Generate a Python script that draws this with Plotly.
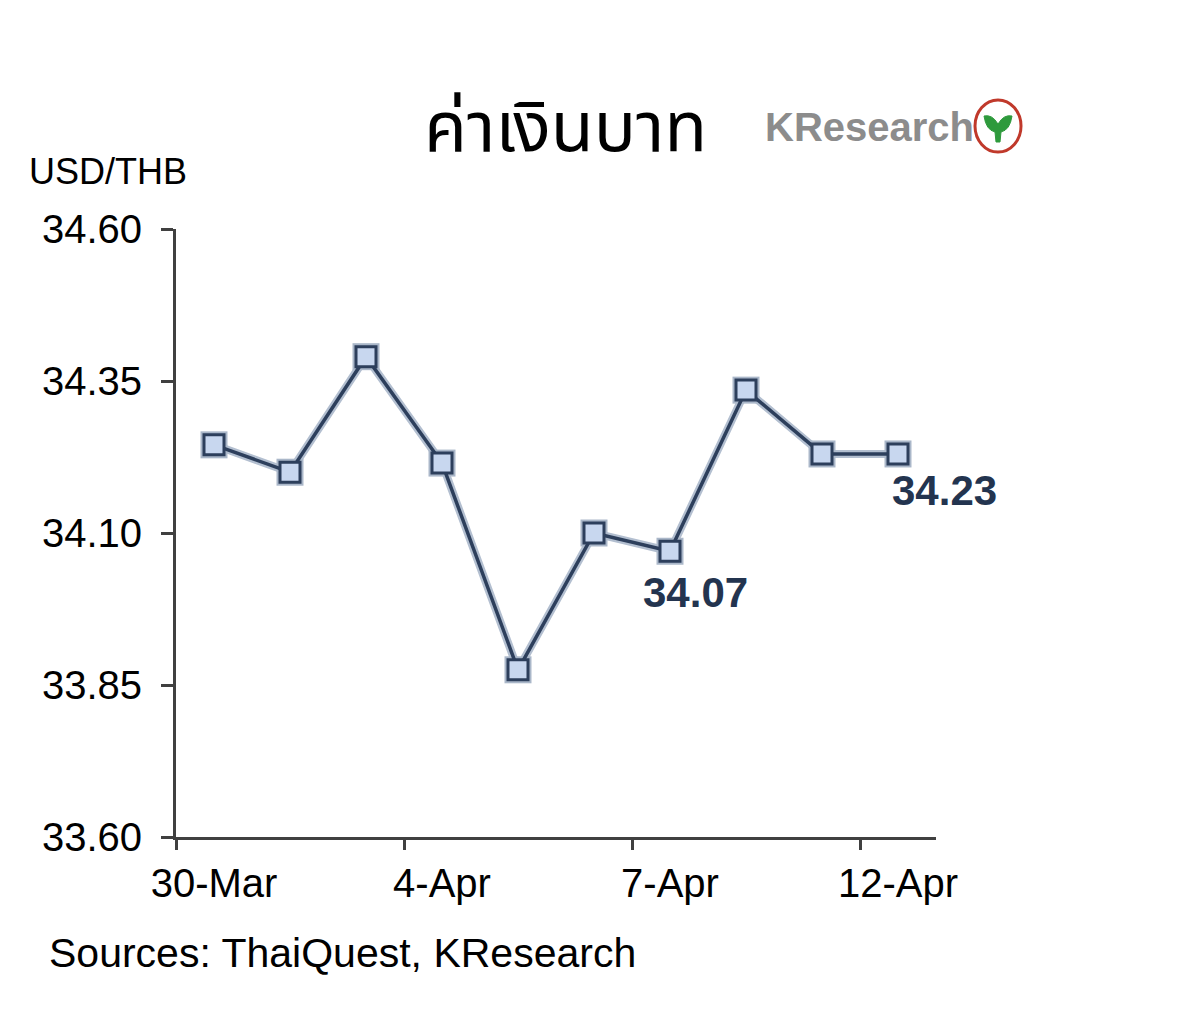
import plotly.graph_objects as go

# ---- data ----
dates = ["30-Mar", "31-Mar", "1-Apr", "4-Apr", "5-Apr", "6-Apr", "7-Apr", "8-Apr", "11-Apr", "12-Apr"]
usd_thb = [34.245, 34.20, 34.39, 34.215, 33.875, 34.10, 34.07, 34.335, 34.23, 34.23]
label_idx = [0, 3, 6, 9]
y_ticks = [33.60, 33.85, 34.10, 34.35, 34.60]
callouts = {6: "34.07", 9: "34.23"}

x = list(range(len(dates)))

fig = go.Figure()
# soft shadow beneath line & markers
fig.add_trace(go.Scatter(
    x=x, y=usd_thb, mode="lines+markers",
    line=dict(color="#b3bfd0", width=8),
    marker=dict(symbol="square", size=27, color="#aab7c9"),
    hoverinfo="skip", showlegend=False))
fig.add_trace(go.Scatter(
    x=x, y=usd_thb, mode="lines+markers",
    line=dict(color="#2d3f5c", width=3.5),
    marker=dict(symbol="square", size=20, color="#c8d7ef",
                line=dict(color="#2d3f5c", width=3)),
    showlegend=False))

axis_col = "#404040"
fig.update_xaxes(
    range=[-0.5, len(dates) - 0.5], showgrid=False, zeroline=False,
    showline=True, linecolor=axis_col, linewidth=3,
    tickmode="array", tickvals=label_idx, ticktext=[dates[i] for i in label_idx],
    ticks="", ticklabelstandoff=9,
    tickfont=dict(family="Liberation Sans, Arial, sans-serif", size=40, color="black"),
    minor=dict(tickmode="array", tickvals=[i - 0.5 for i in label_idx],
               ticks="outside", ticklen=10, tickwidth=3, tickcolor=axis_col),
)
fig.update_yaxes(
    range=[y_ticks[0], y_ticks[-1]], showgrid=False, zeroline=False,
    showline=True, linecolor=axis_col, linewidth=3,
    tickmode="array", tickvals=y_ticks, ticktext=[f"{v:.2f}" for v in y_ticks],
    ticks="outside", ticklen=12, tickwidth=3, tickcolor=axis_col,
    ticklabelstandoff=11,
    tickfont=dict(family="Liberation Sans, Arial, sans-serif", size=40, color="black"),
)

ann = []
# callout labels
for i, txt in callouts.items():
    xs = -29 if i == 6 else -8
    ys = -41 if i == 6 else -37
    ann.append(dict(x=i, y=usd_thb[i], xref="x", yref="y", text=txt, showarrow=False,
                    xanchor="left", yanchor="middle", xshift=xs, yshift=ys,
                    font=dict(family="Liberation Sans, Arial, sans-serif", size=42,
                              color="#23344f", weight="bold")))
ann.append(dict(x=0.512, y=1.163, xref="paper", yref="paper", text="ค่าเงินบาท",
                showarrow=False, xanchor="center", yanchor="middle",
                font=dict(family="Noto Sans Thai, Noto Sans, DejaVu Sans, sans-serif",
                          size=70, color="black")))
ann.append(dict(x=-0.196, y=1.094, xref="paper", yref="paper", text="USD/THB",
                showarrow=False, xanchor="left", yanchor="middle",
                font=dict(family="Liberation Sans, Arial, sans-serif", size=36, color="black")))
ann.append(dict(x=-0.170, y=-0.191, xref="paper", yref="paper",
                text="Sources: ThaiQuest, KResearch",
                showarrow=False, xanchor="left", yanchor="middle",
                font=dict(family="Liberation Sans, Arial, sans-serif", size=41, color="black")))
ann.append(dict(x=0.772, y=1.168, xref="paper", yref="paper",
                text="<b>K</b>Research",
                showarrow=False, xanchor="left", yanchor="middle",
                font=dict(family="Liberation Sans, Arial, sans-serif",
                          size=40, color="#8c8c8c", weight="bold")))

cx, cy = (998 - 176) / 760, (837 - 126) / 608
shapes = [
    dict(type="circle", xref="paper", yref="paper", xsizemode="pixel", ysizemode="pixel",
         xanchor=cx, yanchor=cy, x0=-23, x1=23, y0=-26, y1=26,
         line=dict(color="#c0392b", width=3), fillcolor="white"),
    dict(type="path", xref="paper", yref="paper", xsizemode="pixel", ysizemode="pixel",
         xanchor=cx, yanchor=cy,
         path="M -14,10 Q -6,12 0,2 Q 6,12 14,10 Q 12,-4 3,-6 L 2,-16 L -2,-16 L -3,-6 Q -12,-4 -14,10 Z",
         line=dict(color="#2e9a3c", width=1), fillcolor="#2e9a3c"),
]

fig.update_layout(
    width=1200, height=1020, autosize=False,
    margin=dict(l=168, r=272, t=221, b=191),
    paper_bgcolor="white", plot_bgcolor="white",
    annotations=ann, shapes=shapes,
)

fig.write_html("out.html")
